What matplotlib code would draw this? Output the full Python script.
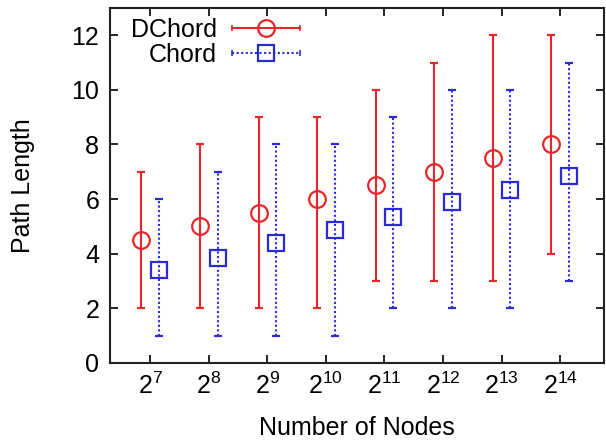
import matplotlib
matplotlib.use("Agg")
import matplotlib.pyplot as plt
from matplotlib.legend_handler import HandlerBase
from matplotlib.lines import Line2D
import numpy as np

plt.rcParams['font.family'] = ['Liberation Sans', 'DejaVu Sans']
plt.rcParams['mathtext.fontset'] = 'custom'
plt.rcParams['mathtext.rm'] = 'Liberation Sans'
plt.rcParams['mathtext.it'] = 'Liberation Sans'

# number of nodes = 2^exp
exps = [7, 8, 9, 10, 11, 12, 13, 14]

dchord_mean = [4.5, 5.0, 5.5, 6.0, 6.5, 7.0, 7.5, 8.0]
dchord_min = [2, 2, 2, 2, 3, 3, 3, 4]
dchord_max = [7, 8, 9, 9, 10, 11, 12, 12]

chord_mean = [3.4, 3.85, 4.4, 4.85, 5.35, 5.9, 6.35, 6.85]
chord_min = [1, 1, 1, 1, 2, 2, 2, 3]
chord_max = [6, 7, 8, 8, 9, 10, 10, 11]

red = '#e8262a'
blue = '#2b2bd6'
dots = (0, (1, 1.2))


class HandlerBar(HandlerBase):
    # horizontal error bar with marker in the middle, like gnuplot's key
    def __init__(self, marker, ms, ls):
        HandlerBase.__init__(self)
        self.marker, self.ms, self.ls = marker, ms, ls

    def create_artists(self, legend, orig, xd, yd, w, h, fs, trans):
        y = h / 2 - yd
        c = orig.get_color()
        ln = Line2D([-xd, w - xd], [y, y], color=c, lw=1.5, ls=self.ls, transform=trans)
        caps = Line2D([-xd, w - xd], [y, y], color=c, ls='none', marker='|', ms=5,
                      mew=1.2, transform=trans)
        mk = Line2D([(w) / 2 - xd], [y], color=c, ls='none', marker=self.marker,
                    ms=self.ms, mfc='none', mec=c, mew=1.6, transform=trans)
        return [ln, caps, mk]


x = np.array(exps, dtype=float)
dm = np.array(dchord_mean)
cm = np.array(chord_mean)

fig = plt.figure(figsize=(6.06, 4.41), dpi=100)
ax = fig.add_axes([0.182, 0.177, 0.815, 0.805])

ax.errorbar(x - 0.15, dm, yerr=[dm - np.array(dchord_min), np.array(dchord_max) - dm],
            fmt='o', color=red, mfc='none', mec=red, ms=12, mew=1.6,
            elinewidth=1.5, capsize=3, capthick=1.2)
e2 = ax.errorbar(x + 0.15, cm, yerr=[cm - np.array(chord_min), np.array(chord_max) - cm],
                 fmt='s', color=blue, mfc='none', mec=blue, ms=11, mew=1.6,
                 elinewidth=1.5, capsize=3, capthick=1.2)
e2[2][0].set_linestyle(dots)

ax.set_xlim(6.32, 14.75)
ax.set_ylim(0, 13)
ax.set_xticks(exps)
ax.set_xticklabels(['$2^{%d}$' % e for e in exps], fontsize=20)
ax.set_yticks([0, 2, 4, 6, 8, 10, 12])
ax.tick_params(axis='both', direction='in', top=True, right=True, length=6,
               width=1.2, labelsize=18, pad=8)
ax.tick_params(axis='x', pad=7)
for s in ax.spines.values():
    s.set_linewidth(1.5)
    s.set_color('#222222')

ax.set_xlabel('Number of Nodes', fontsize=18, labelpad=12)
ax.set_ylabel('Path Length', fontsize=18, labelpad=26)

h1 = Line2D([], [], color=red)
h2 = Line2D([], [], color=blue)
leg = ax.legend([h1, h2], ['DChord', 'Chord'], loc='upper left', frameon=False,
                fontsize=18, markerfirst=False, handlelength=2.75,
                borderaxespad=0.0, labelspacing=0.05, handletextpad=0.6,
                bbox_to_anchor=(0.021, 1.0),
                handler_map={h1: HandlerBar('o', 12, '-'), h2: HandlerBar('s', 11, dots)})
for t in leg.get_texts():
    t.set_ha('right')

fig.savefig('out.png', dpi=100)
